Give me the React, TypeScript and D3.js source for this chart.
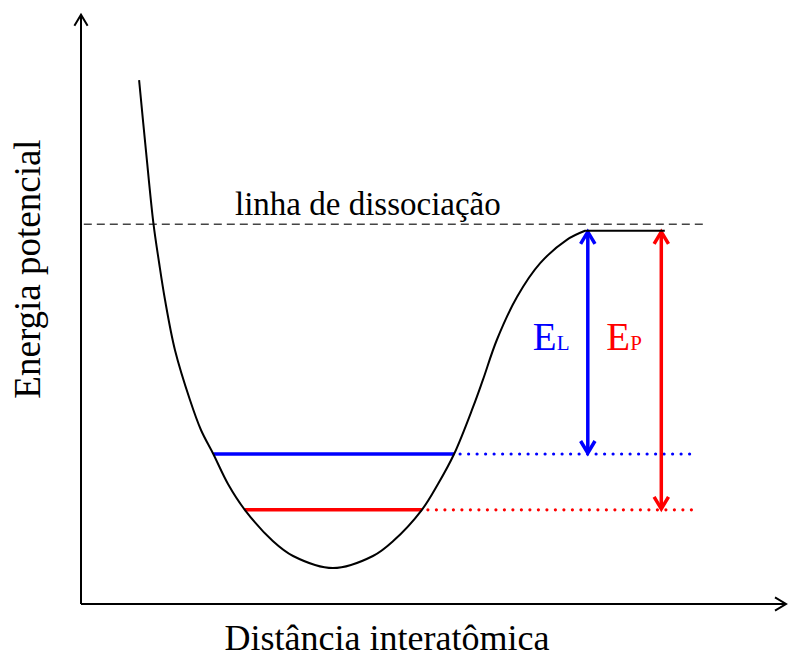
import React from "react";
import * as d3 from "d3";

// Potential energy curve (distance units, energy units)
const curveX = [8.3, 9.3, 10.36, 11.14, 12.0, 13.43, 15.57, 17.14, 18.9, 21.0, 23.4, 27.4, 30.3, 36.0, 41.7, 44.6, 48.7, 51.0, 53.3, 56.0, 57.4, 59.4, 62.3, 65.6, 69.4, 72.0];
const curveY = [87.3, 75.3, 63.3, 57.0, 50.7, 42.3, 34.0, 29.0, 25.0, 20.0, 15.7, 10.5, 8.0, 6.0, 8.0, 10.5, 15.7, 20.0, 25.0, 32.8, 37.3, 44.0, 51.2, 56.8, 60.7, 62.2];
const plateauEnd = 83.4;

const dissociationLevel = 63.3;
const dissociationRange = [0.4, 89.1];
const plateauLevel = 62.2;

const levelNames = ["L", "P"];
const levelValues = [25, 15.7];
const levelStart = [18.9, 23.4];
const levelEnd = [53.3, 48.7];
const levelDotEnd = 87.8;
const levelColors = ["#0000ff", "#ff0000"];
const arrowX = [72.4, 82.9];

const W = 789;
const H = 659;
const FONT = "'Liberation Serif', 'Times New Roman', Times, 'DejaVu Serif', serif";

export default function App() {
  const x = d3.scaleLinear().domain([0, 100]).range([81, 781]);
  const y = d3.scaleLinear().domain([0, 100]).range([604, 4]);

  const pts: [number, number][] = curveX.map((v, i) => [x(v), y(curveY[i])]);
  const line = d3.line().curve(d3.curveCatmullRom.alpha(0.5));
  const curvePath = (line(pts) || "") + `L${x(plateauEnd)},${y(plateauLevel)}`;

  const chev = (tx: number, ty: number, dir: "up" | "down" | "right", s = 9) => {
    if (dir === "up") return `M${tx - s * 0.6},${ty + s} L${tx},${ty} L${tx + s * 0.6},${ty + s}`;
    if (dir === "down") return `M${tx - s * 0.6},${ty - s} L${tx},${ty} L${tx + s * 0.6},${ty - s}`;
    return `M${tx - s},${ty - s * 0.6} L${tx},${ty} L${tx - s},${ty + s * 0.6}`;
  };

  const x0 = x(0);
  const y0 = y(0);
  const yTop = y(98.2);
  const xRight = x(100) + 5;
  const ts = { fontFamily: FONT };

  return (
    <svg
      width={W}
      height={H}
      style={{ position: "absolute", left: 0, top: 0, background: "#fff" }}
    >
      {/* axes */}
      <line x1={x0} y1={y0} x2={x0} y2={yTop} stroke="#000" strokeWidth={2} />
      <path d={chev(x0, yTop, "up", 11)} fill="none" stroke="#000" strokeWidth={2} />
      <line x1={x0} y1={y0} x2={xRight} y2={y0} stroke="#000" strokeWidth={2} />
      <path d={chev(xRight, y0, "right", 11)} fill="none" stroke="#000" strokeWidth={2} />

      {/* dissociation line */}
      <line
        x1={x(dissociationRange[0])}
        x2={x(dissociationRange[1])}
        y1={y(dissociationLevel)}
        y2={y(dissociationLevel)}
        stroke="#444"
        strokeWidth={1.6}
        strokeDasharray="8 5"
      />
      <text x={235} y={215} fontSize={33} fill="#000" style={ts}>
        linha de dissociação
      </text>

      {/* levels */}
      {levelValues.map((v, i) => (
        <g key={levelNames[i]}>
          <line
            x1={x(levelStart[i])}
            x2={x(levelEnd[i])}
            y1={y(v)}
            y2={y(v)}
            stroke={levelColors[i]}
            strokeWidth={3.5}
          />
          <line
            x1={x(levelEnd[i]) + 6}
            x2={x(levelDotEnd)}
            y1={y(v)}
            y2={y(v)}
            stroke={levelColors[i]}
            strokeWidth={3.2}
            strokeLinecap="round"
            strokeDasharray="0 8.5"
          />
          <line
            x1={x(arrowX[i])}
            x2={x(arrowX[i])}
            y1={y(plateauLevel) + 1}
            y2={y(v) - 1}
            stroke={levelColors[i]}
            strokeWidth={3.5}
          />
          <path d={chev(x(arrowX[i]), y(plateauLevel) + 1, "up", 12)} fill="none" stroke={levelColors[i]} strokeWidth={3.5} />
          <path d={chev(x(arrowX[i]), y(v) - 1, "down", 12)} fill="none" stroke={levelColors[i]} strokeWidth={3.5} />
          <text x={x(arrowX[i]) - 55} y={350} fill={levelColors[i]} style={ts}>
            <tspan fontSize={39}>E</tspan>
            <tspan fontSize={21}>{levelNames[i]}</tspan>
          </text>
        </g>
      ))}

      {/* potential curve */}
      <path d={curvePath} fill="none" stroke="#000" strokeWidth={2} />

      {/* axis titles */}
      <text x={387} y={650} fontSize={36} textAnchor="middle" fill="#000" style={ts}>
        Distância interatômica
      </text>
      <text
        transform={`translate(40, 269) rotate(-90)`}
        fontSize={37}
        textAnchor="middle"
        fill="#000"
        style={ts}
      >
        Energia potencial
      </text>
    </svg>
  );
}
